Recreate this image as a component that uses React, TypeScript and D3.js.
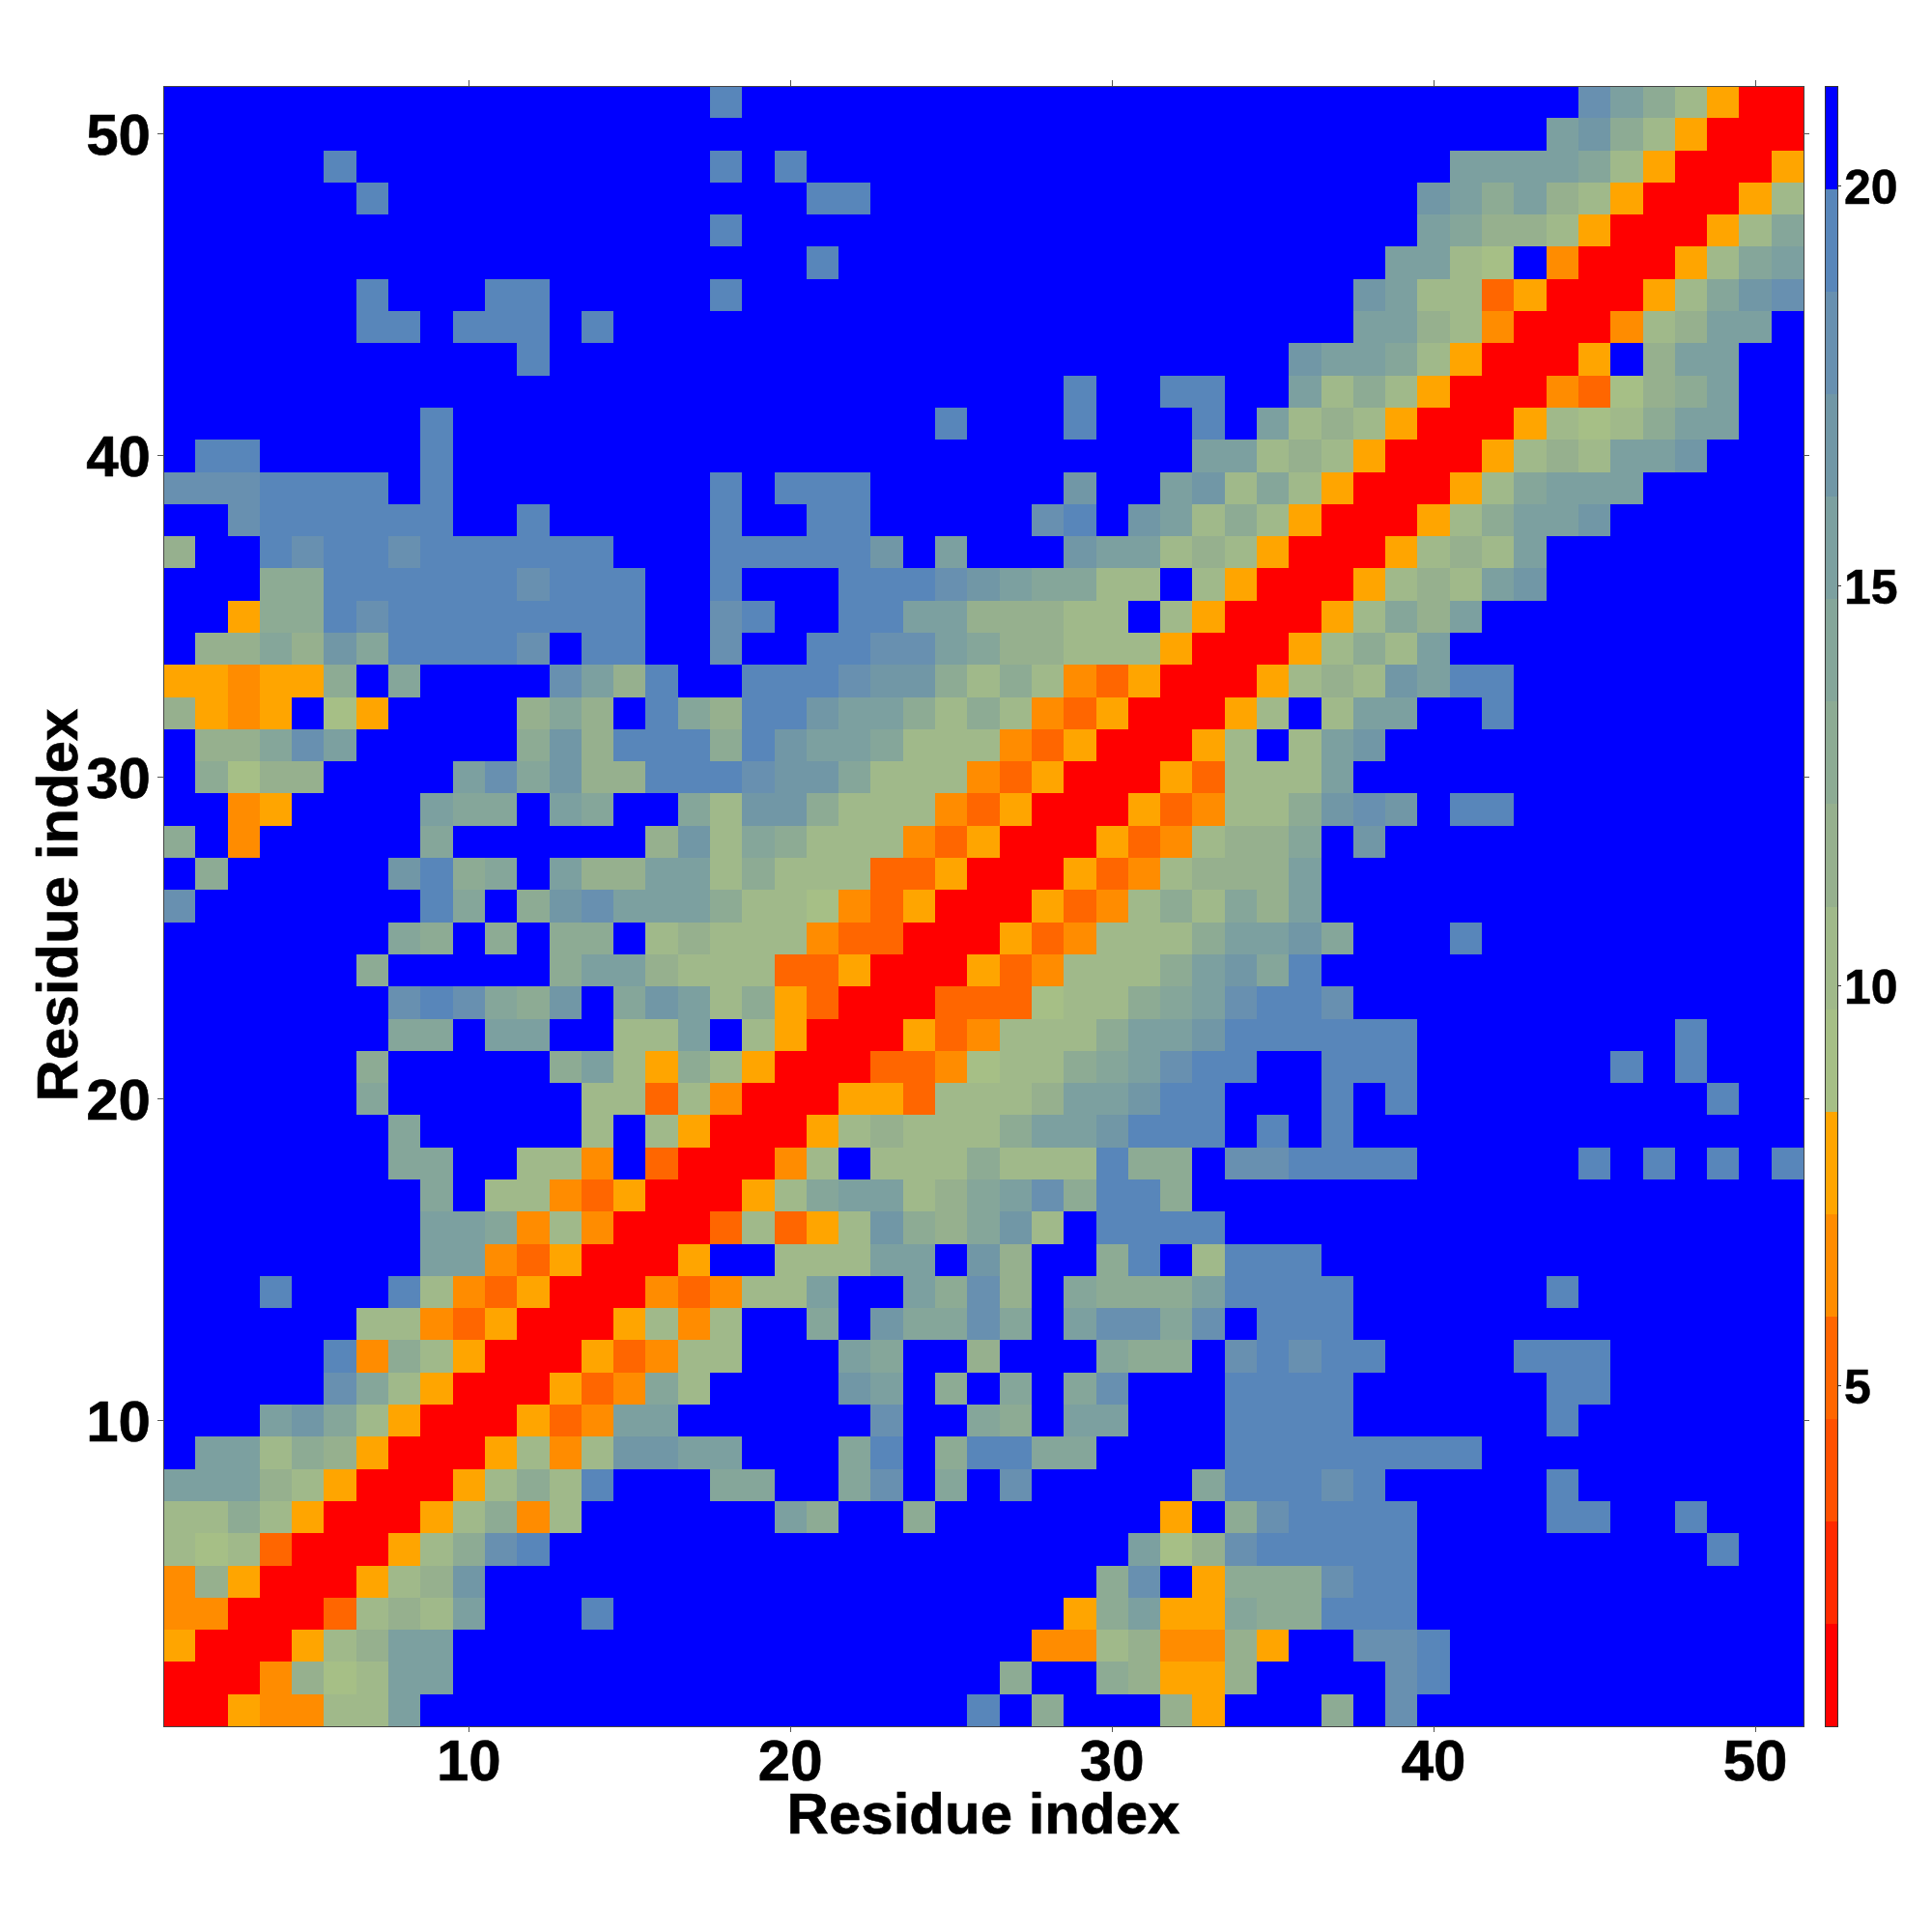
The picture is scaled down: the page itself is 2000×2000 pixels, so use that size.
import React from "react";
import * as d3 from "d3";

// One string per row, top row (residue 51) first; one hex digit per column = colour-band index.
const bandRows: string[] = [
  "ffffffffff fffffffeff ffffffffff ffffffffff ffffdb9750 0",
  "ffffffffff ffffffffff ffffffffff ffffffffff fffbc97500 0",
  "fffffeffff fffffffefe ffffffffff ffffffffff bbbba75000 5",
  "ffffffefff ffffffffff eeffffffff fffffffffc b9b8750005 7",
  "ffffffffff fffffffeff ffffffffff fffffffffb a887500057 a",
  "ffffffffff ffffffffff efffffffff ffffffffbb 76f400057a b",
  "ffffffefff eefffffeff ffffffffff fffffffcb7 73500057ac d",
  "ffffffeefe eefeffffff ffffffffff fffffffbb8 7400047 8bb f",
  "ffffffffff feffffffff ffffffffff fffffcbba7 50005f8bbf f",
  "ffffffffff ffffffffff ffffffffef feeffb7975 000436 89bf f",
  "ffffffffef ffffffffff ffffefffef ffefb78750 0057679bbf f",
  "feefffffef ffffffffff ffffffffff ffbb787500 05787bbcff f",
  "dddeeeefef fffffffefe eeffffffcf fbc7a75000 57abbbffff f",
  "ffdeeeeeef fefffffeff eefffffdef cb79750005 79bbcfffff f",
  "8ffedeedee eeeefffeee eecfbfffcb b787500057 87bfffffff f",
  "fff99eeeee edeeeffeff feeedcbaa7 7f75000578 7bcfffffff f",
  "ff599edeee eeeeeffdef feebb88877 f7500057a8 bfffffffff f",
  "f88a8caeee edfeeffdff eeddba8877 750005797b ffffffffff f",
  "554559faff ffdb8effee edcc979743 50005787cb eeffffffff f",
  "8545f65fff f8a8fea8ee cbb9797435 00057f7bbf feffffffff f",
  "f88adbffff f9c8eee9ec bba7774350 0057f7bcff ffffffffff f",
  "f9688ffffb dac88eeedc ca77743500 053777bfff ffffffffff f",
  "ff45ffffba afbaffa7cc 9777435000 534779cdcf eeffffffff f",
  "9f4fffffaf fffff8c7a9 7774350005 34788afcff ffffffffff f",
  "f9fffffce9 afb88bb797 7733500053 47888bffff ffffffffff f",
  "dfffffffea f9cdbbb977 6435000534 797a8bffff ffffffffff f",
  "fffffffa9f 9f99f78777 4330005347 779bbcafff efffffffff f",
  "ffffff9fff ff9bb87773 3500053477 79bcaeffff ffffffffff f",
  "fffffffded a9cfacb795 3000333677 9abdeedfff ffffffffff f",
  "fffffffaaf bbff77bf75 0005347779 bbceeeeeef fffffffeff f",
  "ffffff9fff ff9b759750 0033467 79a bdeeffeeef fffffefeff f",
  "ffffffafff fff7737400 05537778bb ceefffefef ffffffffef f",
  "fffffffaff fff7f75000 5787779bbc eeefefefff ffffffffff f",
  "fffffffaaf f774f30004 7f7779777e 99fddeeeef ffffefefef e",
  "ffffffffaf 7743500057 abb78abd9e e9ffffffff ffffffffff f",
  "ffffffffbb a474000373 57c98ac7fe eeefffffff ffffffffff f",
  "ffffffffbb 4350005ff7 77bbfc8ff9 ef7eeeffff ffffffffff f",
  "fffefffe74 3500043477 bffb9d8fa9 99beeeefff fffeffffff f",
  "ffffff7743 50005747ff afcaadafbd dadfeeefff ffffffffff f",
  "fffffe4975 00053477ff fbaff8fffa 99fdedeeff ffeeefffff f",
  "fffffda750 00534a7fff fcbf9fafad fffeeeefff fffeefffff f",
  "fffbca7500 0534bbffff ffdffa9fbb fffeeeefff fffeffffff f",
  "fbb7985000 5747ccbbff faef9eeaaf fffeeeeeee efffffffff f",
  "bbb8750005 797efffaaf fadfafdfff ffaeeedeff fffeffffff f",
  "7797500057 947ffffffb 9ff9ffffff f5f9deeeef fffeeffeff f",
  "7673000579 deffffffff ffffffffff b68deeeeef ffffffffef f",
  "485000578c ffffffffff fffffffff9 df5999deef ffffffffff f",
  "440003787b fffeffffff ffffffff59 b55a99eeef ffffffffff f",
  "5000578bbf ffffffffff fffffff447 84485ffdde ffffffffff f",
  "0004867bbf ffffffffff ffffff9ff9 8558ffffde ffffffffff f",
  "0054477bff ffffffffff fffffef9ff f85fff9fdf ffffffffff f",
];

const bandColors = [
  "#ff0000", "#ff2a00", "#ff5000", "#ff6600", "#ff8c00", "#ffa500",
  "#a6bf86", "#a0b98a", "#96b08e", "#8dab94", "#85a69a", "#7ca0a0",
  "#7197a6", "#6890b0", "#5886ba", "#0000ff",
];

const zMin = 0.75;
const zMax = 21.25;
const axisTicks = [10, 20, 30, 40, 50];
const barTicks = [5, 10, 15, 20];
const axisTitle = "Residue index";
const nResidues = 51;

const left = 169, right = 1867, top = 89, bottom = 1787;
const barLeft = 1889, barRight = 1902;
const font = "'Liberation Sans', Arial, sans-serif";

export default function App() {
  const x = d3.scaleLinear().domain([0.5, nResidues + 0.5]).range([left, right]);
  const y = d3.scaleLinear().domain([0.5, nResidues + 0.5]).range([bottom, top]);
  const z = d3.scaleLinear().domain([zMin, zMax]).range([bottom, top]);
  const step = (zMax - zMin) / bandColors.length;
  const color = d3.scaleQuantize<string>().domain([zMin, zMax]).range(bandColors);

  // band index -> representative distance value
  const matrix = bandRows.map((r) =>
    Array.from(r.replace(/\s/g, "")).map((ch) => zMin + (parseInt(ch, 16) + 0.5) * step)
  );

  const tickStroke = "#555";
  return (
    <svg
      width={2000}
      height={2000}
      style={{ position: "absolute", left: 0, top: 0, background: "#fff" }}
      shapeRendering="crispEdges"
    >
      {matrix.map((row, r) =>
        row.map((v, c) => {
          const res = c + 1;
          const yres = nResidues - r;
          return (
            <rect
              key={`${r}-${c}`}
              x={x(res - 0.5)}
              y={y(yres + 0.5)}
              width={x(res + 0.5) - x(res - 0.5) + 0.5}
              height={y(yres - 0.5) - y(yres + 0.5) + 0.5}
              fill={color(v)}
            />
          );
        })
      )}
      <rect x={left} y={top} width={right - left} height={bottom - top} fill="none" stroke="#444" strokeWidth={1} />
      {axisTicks.map((t) => (
        <g key={t} stroke={tickStroke} strokeWidth={1}>
          <line x1={x(t)} x2={x(t)} y1={top} y2={top - 6} />
          <line x1={x(t)} x2={x(t)} y1={bottom} y2={bottom + 6} />
          <line x1={left} x2={left - 6} y1={y(t)} y2={y(t)} />
          <line x1={right} x2={right + 6} y1={y(t)} y2={y(t)} />
        </g>
      ))}
      <g fontFamily={font} fontWeight="bold" fill="#000" stroke="#000" strokeWidth={0.6} shapeRendering="auto">
        {axisTicks.map((t) => (
          <text key={t} x={x(t)} y={1843} fontSize={60} textAnchor="middle">{t}</text>
        ))}
        {axisTicks.map((t) => (
          <text key={t} x={156} y={y(t) + 21} fontSize={60} textAnchor="end">{t}</text>
        ))}
        <text x={1018} y={1898} fontSize={60} textAnchor="middle">{axisTitle}</text>
        <text transform={`translate(80,937) rotate(-90)`} fontSize={60} textAnchor="middle">{axisTitle}</text>
      </g>
      {bandColors.map((c, i) => (
        <rect
          key={c}
          x={barLeft}
          y={z(zMin + (i + 1) * step)}
          width={barRight - barLeft}
          height={z(zMin + i * step) - z(zMin + (i + 1) * step) + 0.5}
          fill={c}
        />
      ))}
      <rect x={barLeft} y={top} width={barRight - barLeft} height={bottom - top} fill="none" stroke="#333" strokeWidth={1} />
      {barTicks.map((t) => (
        <g key={t}>
          <line x1={barRight} x2={barRight + 4} y1={z(t)} y2={z(t)} stroke="#333" />
          <text
            x={1909}
            y={z(t) + 18}
            fontFamily={font}
            fontWeight="bold"
            fontSize={50}
            stroke="#000"
            strokeWidth={0.5}
            shapeRendering="auto"
          >
            {t}
          </text>
        </g>
      ))}
    </svg>
  );
}
